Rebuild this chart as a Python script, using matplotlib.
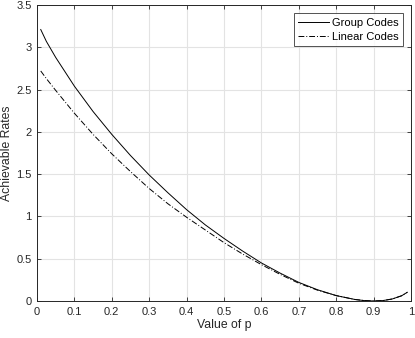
import numpy as np
import matplotlib
matplotlib.use('Agg')
from matplotlib import pyplot as plt

plt.rcParams['font.family'] = ['Liberation Sans', 'DejaVu Sans']

# values
p_vals = [0.01, 0.025, 0.05, 0.1, 0.15, 0.2, 0.25, 0.3, 0.35, 0.4, 0.45, 0.5,
          0.55, 0.6, 0.65, 0.7, 0.75, 0.8, 0.85, 0.875, 0.9, 0.925, 0.95, 0.975, 0.99]
group_rates = [3.21, 3.07, 2.88, 2.54, 2.24, 1.97, 1.72, 1.49, 1.28, 1.08, 0.90, 0.74,
               0.59, 0.45, 0.33, 0.22, 0.133, 0.064, 0.018, 0.005, 0.0, 0.005, 0.024, 0.062, 0.103]
linear_rates = [2.72, 2.63, 2.49, 2.22, 1.97, 1.74, 1.53, 1.33, 1.15, 0.99, 0.84, 0.69,
                0.555, 0.43, 0.315, 0.21, 0.128, 0.064, 0.018, 0.005, 0.0, 0.005, 0.024, 0.062, 0.103]

x_ticks = np.arange(0, 1.01, 0.1)
x_ticklabels = ['0', '0.1', '0.2', '0.3', '0.4', '0.5', '0.6', '0.7', '0.8', '0.9', '1']
y_ticks = np.arange(0, 3.51, 0.5)
y_ticklabels = ['0', '0.5', '1', '1.5', '2', '2.5', '3', '3.5']

fig = plt.figure(figsize=(4.15, 3.38), dpi=100)
ax = fig.add_axes([37/415, 37/338, 374/415, 296/338])

ax.plot(p_vals, group_rates, color='black', lw=0.7, label='Group Codes')
ax.plot(p_vals, linear_rates, color='black', lw=0.7, ls='-.', dashes=(6, 2, 1, 2),
        label='Linear Codes')

ax.set_xlim(0, 1)
ax.set_ylim(0, 3.5)
ax.set_xticks(x_ticks)
ax.set_xticklabels(x_ticklabels)
ax.set_yticks(y_ticks)
ax.set_yticklabels(y_ticklabels)
ax.grid(True, color='#e3e3e3', lw=0.8)
ax.set_axisbelow(True)
ax.tick_params(direction='in', top=True, right=True, length=3, width=0.6,
               labelsize=8, colors='#262626', pad=4)
for s in ax.spines.values():
    s.set_color('#262626')
    s.set_linewidth(0.7)

ax.set_xlabel('Value of p', fontsize=8.8, color='#262626', labelpad=2)
ax.set_ylabel('Achievable Rates', fontsize=8.8, color='#262626', labelpad=2)

leg = ax.legend(loc='upper right', fontsize=8, frameon=True, fancybox=False,
                edgecolor='#262626', handlelength=2.8, handletextpad=0.2,
                borderpad=0.4, labelspacing=0.35, borderaxespad=0.75)
leg.get_frame().set_linewidth(0.7)

fig.savefig('out.png', dpi=100)
